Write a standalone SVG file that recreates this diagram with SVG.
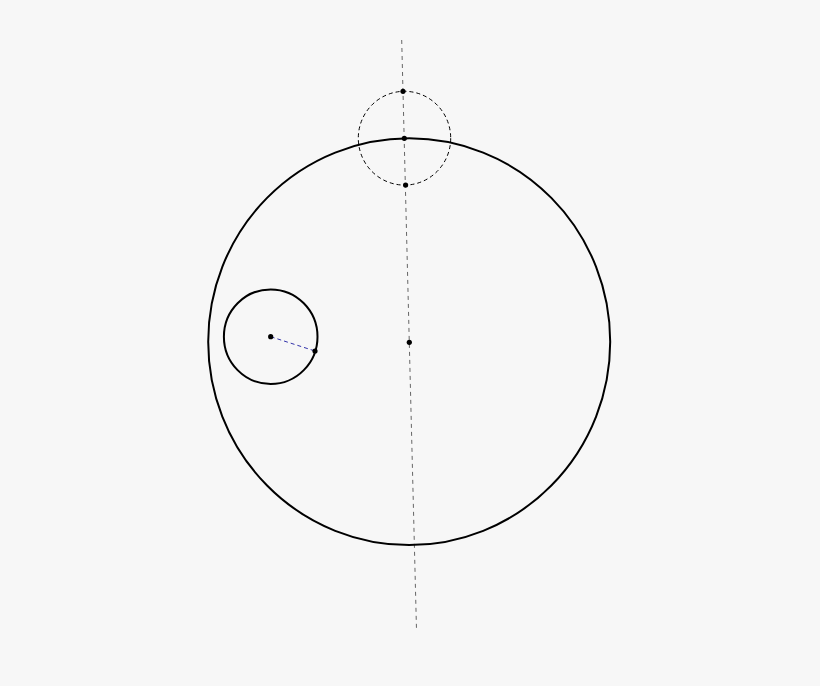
<svg xmlns="http://www.w3.org/2000/svg" width="820" height="686" viewBox="0 0 820 686">
<style>
.solid{fill:none;stroke:#000;stroke-width:2}
.dashc{fill:none;stroke:#000;stroke-width:1;stroke-dasharray:4 3}
.axis{fill:none;stroke:#666;stroke-width:1;stroke-dasharray:4 4}
.rad{fill:none;stroke:#3333aa;stroke-width:1;stroke-dasharray:4 3}
.pt{fill:#000}
</style>
<rect width="820" height="686" fill="#f7f7f7"/>
<g id="connectors">
<line class="axis" x1="401.7" y1="40" x2="416.5" y2="630"/>
<line class="rad" x1="270.7" y1="336.7" x2="315" y2="351"/>
</g>
<g id="big-circle"><ellipse class="solid" cx="409.2" cy="341.7" rx="201" ry="203.4"/></g>
<g id="dashed-circle"><ellipse class="dashc" cx="404.5" cy="138.2" rx="46.2" ry="46.9"/></g>
<g id="small-circle"><ellipse class="solid" cx="270.7" cy="336.7" rx="46.8" ry="47.3"/></g>
<g id="points">
<circle class="pt" cx="403" cy="91.3" r="2.6"/>
<circle class="pt" cx="404.3" cy="138.3" r="2.6"/>
<circle class="pt" cx="405.6" cy="185" r="2.6"/>
<circle class="pt" cx="409.3" cy="342.3" r="2.6"/>
<circle class="pt" cx="270.7" cy="336.7" r="2.6"/>
<circle class="pt" cx="315" cy="351" r="2.6"/>
</g>
</svg>
